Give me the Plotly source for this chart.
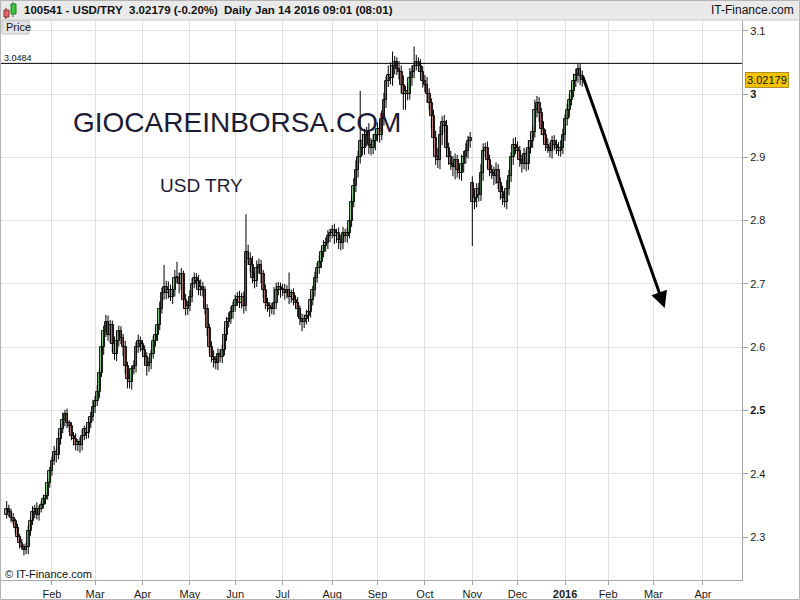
import pandas as pd
import plotly.graph_objects as go

# ---------------- data (daily closes) ----------------
close_2015_01 = [2.345, 2.34, 2.33, 2.325, 2.315, 2.30, 2.29, 2.285, 2.28, 2.285, 2.31, 2.325,
                 2.34, 2.345, 2.335, 2.345, 2.35, 2.36, 2.365, 2.385, 2.405]
close_2015_02 = [2.42, 2.435, 2.43, 2.455, 2.47, 2.485, 2.495, 2.48, 2.475, 2.46, 2.455, 2.445,
                 2.45, 2.445, 2.46, 2.47, 2.465, 2.48, 2.49, 2.505]
close_2015_03 = [2.515, 2.53, 2.56, 2.6, 2.625, 2.64, 2.62, 2.635, 2.605, 2.59, 2.61, 2.625,
                 2.615, 2.6, 2.57, 2.55, 2.545, 2.565, 2.57, 2.6, 2.61, 2.605]
close_2015_04 = [2.595, 2.585, 2.57, 2.575, 2.59, 2.61, 2.62, 2.635, 2.66, 2.685, 2.695, 2.685,
                 2.69, 2.68, 2.69, 2.71, 2.71, 2.7, 2.715, 2.675, 2.66, 2.665]
close_2015_05 = [2.68, 2.7, 2.71, 2.705, 2.69, 2.695, 2.69, 2.66, 2.63, 2.6, 2.585, 2.58,
                 2.575, 2.59, 2.585, 2.595, 2.62, 2.64, 2.645, 2.655, 2.665]
close_2015_06 = [2.675, 2.68, 2.67, 2.68, 2.665, 2.75, 2.74, 2.73, 2.71, 2.705, 2.725, 2.73,
                 2.715, 2.69, 2.67, 2.665, 2.66, 2.66, 2.67, 2.69, 2.695, 2.69]
close_2015_07 = [2.69, 2.685, 2.69, 2.68, 2.685, 2.675, 2.67, 2.66, 2.645, 2.64, 2.645, 2.65,
                 2.655, 2.675, 2.69, 2.71, 2.725, 2.735, 2.75, 2.76, 2.765, 2.775, 2.78]
close_2015_08 = [2.785, 2.775, 2.78, 2.77, 2.765, 2.78, 2.775, 2.78, 2.8, 2.83, 2.855, 2.88,
                 2.9, 2.925, 2.915, 2.935, 2.94, 2.92, 2.915, 2.925, 2.935]
close_2015_09 = [2.945, 2.935, 2.96, 2.99, 3.02, 3.03, 3.025, 3.045, 3.05, 3.04, 3.035, 3.015,
                 3.0, 3.005, 3.0, 3.025, 3.035, 3.045, 3.05, 3.045, 3.035, 3.02]
close_2015_10 = [3.015, 3.0, 2.985, 2.965, 2.93, 2.9, 2.895, 2.935, 2.955, 2.95, 2.915, 2.9,
                 2.89, 2.885, 2.895, 2.88, 2.875, 2.89, 2.9, 2.91, 2.925, 2.93]
close_2015_11 = [2.83, 2.835, 2.85, 2.84, 2.875, 2.91, 2.915, 2.895, 2.88, 2.875, 2.87, 2.88,
                 2.86, 2.845, 2.835, 2.83, 2.85, 2.87, 2.9, 2.92, 2.915]
close_2015_12 = [2.91, 2.895, 2.89, 2.905, 2.89, 2.915, 2.925, 2.94, 2.975, 2.985, 2.97, 2.945,
                 2.935, 2.92, 2.915, 2.91, 2.925, 2.92, 2.915, 2.91, 2.915, 2.935]
close_2016_01 = [2.96, 2.975, 2.99, 3.005, 3.02, 3.03, 3.04, 3.028, 3.02179]

# wick lengths above/below the candle body, in thousandths of a lira
upper_wick_milli = (
    [12, 6, 5, 8, 4, 6, 5, 7, 4, 6, 8, 5, 9, 6, 10, 5, 6, 7, 5, 8, 6]
    + [7, 9, 5, 10, 8, 12, 6, 8, 5, 7, 6, 9, 5, 8, 10, 6, 7, 9, 8, 12]
    + [8, 10, 6, 12, 9, 11, 10, 8, 7, 12, 15, 9, 8, 6, 10, 7, 8, 6, 9, 8, 10, 7]
    + [6, 8, 7, 9, 6, 8, 10, 7, 12, 9, 35, 10, 14, 9, 7, 12, 25, 8, 10, 6, 9, 8]
    + [10, 9, 8, 7, 9, 12, 8, 6, 8, 7, 9, 10, 6, 8, 7, 9, 12, 8, 10, 9, 7]
    + [8, 7, 9, 6, 8, 60, 12, 10, 14, 9, 12, 10, 8, 7, 9, 8, 6, 10, 25, 12, 8, 7]
    + [10, 10, 8, 28, 6, 8, 7, 9, 6, 8, 7, 9, 10, 8, 7, 9, 8, 10, 7, 9, 8, 10, 7]
    + [8, 10, 7, 9, 8, 10, 7, 9, 8, 10, 12, 15, 10, 80, 12, 10, 8, 14, 10, 12, 9]
    + [10, 12, 14, 12, 8, 15, 20, 22, 10, 8, 12, 10, 14, 8, 12, 16, 10, 30, 12, 8, 10, 9]
    + [10, 12, 9, 8, 10, 12, 15, 14, 10, 12, 9, 8, 10, 12, 11, 9, 8, 14, 10, 12, 9, 10]
    + [10, 12, 9, 10, 14, 12, 8, 10, 9, 8, 10, 12, 9, 8, 10, 12, 14, 10, 8, 10, 12]
    + [10, 8, 9, 10, 8, 12, 10, 9, 16, 12, 10, 8, 12, 9, 10, 8, 9, 10, 8, 9, 12, 10]
    + [8, 10, 9, 10, 12, 10, 9, 8, 9]
)
lower_wick_milli = (
    [6, 8, 7, 5, 9, 6, 8, 5, 9, 7, 12, 8, 6, 10, 7, 9, 6, 5, 8, 6, 7]
    + [8, 6, 12, 7, 9, 6, 10, 8, 9, 7, 10, 8, 9, 12, 8, 7, 10, 9, 8, 7]
    + [9, 8, 10, 7, 12, 9, 10, 14, 12, 10, 12, 9, 10, 14, 12, 15, 10, 12, 8, 10, 9, 12]
    + [10, 12, 15, 9, 10, 8, 9, 10, 8, 7, 10, 9, 8, 7, 12, 10, 9, 15, 10, 14, 10, 9]
    + [8, 9, 7, 10, 8, 9, 10, 8, 12, 10, 9, 12, 10, 11, 9, 10, 8, 10, 9, 8, 10]
    + [9, 10, 8, 9, 12, 8, 10, 12, 9, 12, 10, 9, 14, 12, 10, 9, 12, 8, 9, 10, 8, 12]
    + [9, 10, 8, 12, 10, 9, 10, 12, 10, 15, 10, 9, 10, 8, 9, 10, 8, 9, 10, 8, 9, 10, 9]
    + [8, 12, 10, 15, 12, 10, 9, 10, 8, 10, 9, 10, 12, 10, 12, 11, 18, 15, 12, 10, 14]
    + [10, 12, 8, 10, 12, 9, 10, 12, 14, 10, 12, 14, 25, 25, 10, 9, 12, 10, 8, 10, 12, 10]
    + [12, 14, 10, 20, 15, 12, 12, 14, 16, 12, 14, 12, 10, 15, 20, 12, 10, 12, 14, 10, 12, 10]
    + [70, 12, 14, 10, 9, 12, 10, 12, 10, 9, 14, 12, 10, 12, 10, 9, 12, 10, 9, 12, 10]
    + [12, 10, 14, 9, 12, 10, 9, 10, 9, 12, 14, 10, 12, 10, 8, 10, 12, 9, 10, 8, 9, 10]
    + [9, 10, 12, 8, 10, 9, 12, 14, 10]
)

first_open = 2.335
gap_opens = {"2015-11-02": 2.86}          # opening gap after the Turkish election
holidays = ["2015-01-01", "2015-12-25", "2016-01-01"]
reference_level = 3.0484
last_price = 3.02179

y_tick_vals = [2.3, 2.4, 2.5, 2.6, 2.7, 2.8, 2.9, 3.0, 3.1]
y_tick_text = ["2.3", "2.4", "<b>2.5</b>", "2.6", "2.7", "2.8", "2.9", "<b>3</b>", "3.1"]
x_tick_days = ["2015-02-02", "2015-03-02", "2015-04-01", "2015-05-01", "2015-06-01", "2015-07-01",
               "2015-08-03", "2015-09-01", "2015-10-01", "2015-11-02", "2015-12-01", "2016-01-04",
               "2016-02-01", "2016-03-01", "2016-04-01"]
x_tick_text = ["Feb", "Mar", "Apr", "May", "Jun", "Jul", "Aug", "Sep", "Oct", "Nov", "Dec",
               "<b>2016</b>", "Feb", "Mar", "Apr"]

# ---------------- build OHLC table ----------------
closes = (close_2015_01 + close_2015_02 + close_2015_03 + close_2015_04 + close_2015_05
          + close_2015_06 + close_2015_07 + close_2015_08 + close_2015_09 + close_2015_10
          + close_2015_11 + close_2015_12 + close_2016_01)
days = [d for d in pd.bdate_range("2015-01-02", "2016-01-14")
        if d.strftime("%Y-%m-%d") not in holidays]
assert len(days) == len(closes) == len(upper_wick_milli) == len(lower_wick_milli), (
    len(days), len(closes), len(upper_wick_milli), len(lower_wick_milli))

HALF_DAY = pd.Timedelta(hours=12)
centers = [d + HALF_DAY for d in days]      # each candle sits in the middle of its session

opens, highs, lows = [], [], []
prev = first_open
for d, c, u, l in zip(days, closes, upper_wick_milli, lower_wick_milli):
    o = gap_opens.get(d.strftime("%Y-%m-%d"), prev)
    opens.append(o)
    highs.append(max(o, c) + u / 1000)
    lows.append(min(o, c) - l / 1000)
    prev = c

UP_FILL, DOWN_FILL = "#92d492", "#c98a8a"
body_base = [min(o, c) for o, c in zip(opens, closes)]
body_len = [max(abs(c - o), 0.0012) for o, c in zip(opens, closes)]
body_col = [UP_FILL if c >= o else DOWN_FILL for o, c in zip(opens, closes)]

wick_x, wick_y = [], []
for t, h, l in zip(centers, highs, lows):
    wick_x += [t, t, None]
    wick_y += [l, h, None]

# ---------------- figure ----------------
W, H = 800, 600
ML, MR, MT, MB = 1, 58, 20, 20
PW, PH = W - ML - MR, H - MT - MB


def px(x):
    return (x - ML) / PW


def py(y):
    return (H - MB - y) / PH


FONT = "Liberation Sans, Arial, sans-serif"

fig = go.Figure()
fig.add_trace(go.Scatter(x=wick_x, y=wick_y, mode="lines", line=dict(color="#000000", width=1),
                         hoverinfo="skip", showlegend=False))
fig.add_trace(go.Bar(x=centers, y=body_len, base=body_base, width=1.25 * 86400000,
                     marker=dict(color=body_col, line=dict(color="#000000", width=0.9)),
                     hoverinfo="skip", showlegend=False))

grid = "#e1e1e1"
start = (pd.Timestamp("2014-12-29 08:38") + HALF_DAY).strftime("%Y-%m-%d %H:%M")
end = (pd.Timestamp("2016-04-27 02:24") + HALF_DAY).strftime("%Y-%m-%d %H:%M")
fig.update_layout(
    width=W, height=H, margin=dict(l=ML, r=MR, t=MT, b=MB),
    paper_bgcolor="white", plot_bgcolor="white",
    font=dict(family=FONT, size=11, color="#1a1a1a"),
    showlegend=False, bargap=0,
    xaxis=dict(
        type="date",
        rangebreaks=[dict(bounds=["sat", "mon"]), dict(values=holidays)],
        range=[start, end],
        tickvals=[d + " 12:00" for d in x_tick_days], ticktext=x_tick_text,
        showgrid=True, gridcolor=grid, gridwidth=1,
        ticks="outside", ticklen=4, tickcolor="#a0a0a0",
        showline=True, linecolor="#a8a8a8", linewidth=1,
        zeroline=False, tickfont=dict(size=11, color="#1a1a1a"),
        fixedrange=True,
    ),
    yaxis=dict(
        side="right", range=[2.2322, 3.1169],
        tickvals=y_tick_vals, ticktext=y_tick_text,
        showgrid=True, gridcolor=grid, gridwidth=1,
        ticks="outside", ticklen=5, tickcolor="#a0a0a0",
        showline=True, linecolor="#a8a8a8", linewidth=1,
        zeroline=False, tickfont=dict(size=11, color="#1a1a1a"),
        fixedrange=True,
    ),
)

shapes = []
# header bar
shapes.append(dict(type="rect", xref="paper", yref="paper", x0=px(0), x1=px(800), y0=py(20), y1=py(0),
                   fillcolor="#e9e9e9", line=dict(width=0), layer="below"))
shapes.append(dict(type="line", xref="paper", yref="paper", x0=px(0), x1=px(800), y0=py(20), y1=py(20),
                   line=dict(color="#c8c8c8", width=1)))
# outer frame
shapes.append(dict(type="rect", xref="paper", yref="paper", x0=px(0.5), x1=px(799.5), y0=py(599.5), y1=py(0.5),
                   line=dict(color="#b4b4b4", width=1)))
# candle icon in header
shapes.append(dict(type="line", xref="paper", yref="paper", x0=px(6), x1=px(6), y0=py(19), y1=py(8),
                   line=dict(color="#7a2a2a", width=1)))
shapes.append(dict(type="rect", xref="paper", yref="paper", x0=px(4), x1=px(9), y0=py(17), y1=py(10),
                   fillcolor="#e06a6a", line=dict(color="#8a3030", width=1)))
shapes.append(dict(type="line", xref="paper", yref="paper", x0=px(13), x1=px(13), y0=py(17), y1=py(2),
                   line=dict(color="#1f6f1f", width=1)))
shapes.append(dict(type="rect", xref="paper", yref="paper", x0=px(11), x1=px(16), y0=py(14), y1=py(4),
                   fillcolor="#3cc43c", line=dict(color="#237a23", width=1)))
# "Price" box
shapes.append(dict(type="rect", xref="paper", yref="paper", x0=px(2), x1=px(29), y0=py(34), y1=py(21),
                   fillcolor="#e4e4e4", line=dict(color="#c4c4c4", width=1)))
# reference horizontal level
shapes.append(dict(type="line", xref="paper", yref="y", x0=0, x1=1, y0=reference_level, y1=reference_level,
                   line=dict(color="#000000", width=1)))
fig.update_layout(shapes=shapes)

ann = []


def text(x, y, s, size=11, bold=False, color="#1a1a1a", xanchor="left", yanchor="middle", family=FONT):
    ann.append(dict(xref="paper", yref="paper", x=px(x), y=py(y), text=("<b>%s</b>" % s) if bold else s,
                    showarrow=False, xanchor=xanchor, yanchor=yanchor,
                    font=dict(size=size, color=color, family=family)))


text(22, 10, "100541 - USD/TRY", size=11.5, bold=True, color="#111111")
text(127, 10, "3.02179 (-0.20%)", size=11.5, bold=True, color="#111111")
text(222, 10, "Daily", size=11.5, bold=True, color="#111111")
text(253, 10, "Jan 14 2016 09:01 (08:01)", size=11.5, bold=True, color="#111111")
text(796, 10, "IT-Finance.com", size=12, color="#111111", xanchor="right")
text(4, 27.5, "Price", size=11, color="#111111")
text(2, 58, "3.0484", size=9, color="#111111")
text(3, 574, "© IT-Finance.com", size=11, color="#111111")
text(237, 122, "GIOCAREINBORSA.COM", size=28, color="#1b1b35", xanchor="center")
text(201, 186, "USD TRY", size=19, color="#1b1b35", xanchor="center")

# last price tag on the right axis
ann.append(dict(xref="paper", yref="y", x=px(745), y=last_price, text="3.02179", showarrow=False,
                xanchor="left", yanchor="middle", bgcolor="#f2c200", bordercolor="#b09020", borderwidth=1,
                borderpad=1, font=dict(size=11, color="#111111", family=FONT)))

# forecast arrow
ann.append(dict(xref="x", yref="y", axref="x", ayref="y",
                x="2016-03-08 18:00", y=2.662, ax="2016-01-14 12:00", ay=3.03,
                showarrow=True, arrowhead=2, arrowsize=1.1, arrowwidth=3, arrowcolor="#000000",
                text="", standoff=0, startstandoff=0))

fig.update_layout(annotations=ann)

fig.write_html("out.html", config={"displayModeBar": False},
               post_script="document.body.style.margin='0';document.body.style.overflow='hidden';")
